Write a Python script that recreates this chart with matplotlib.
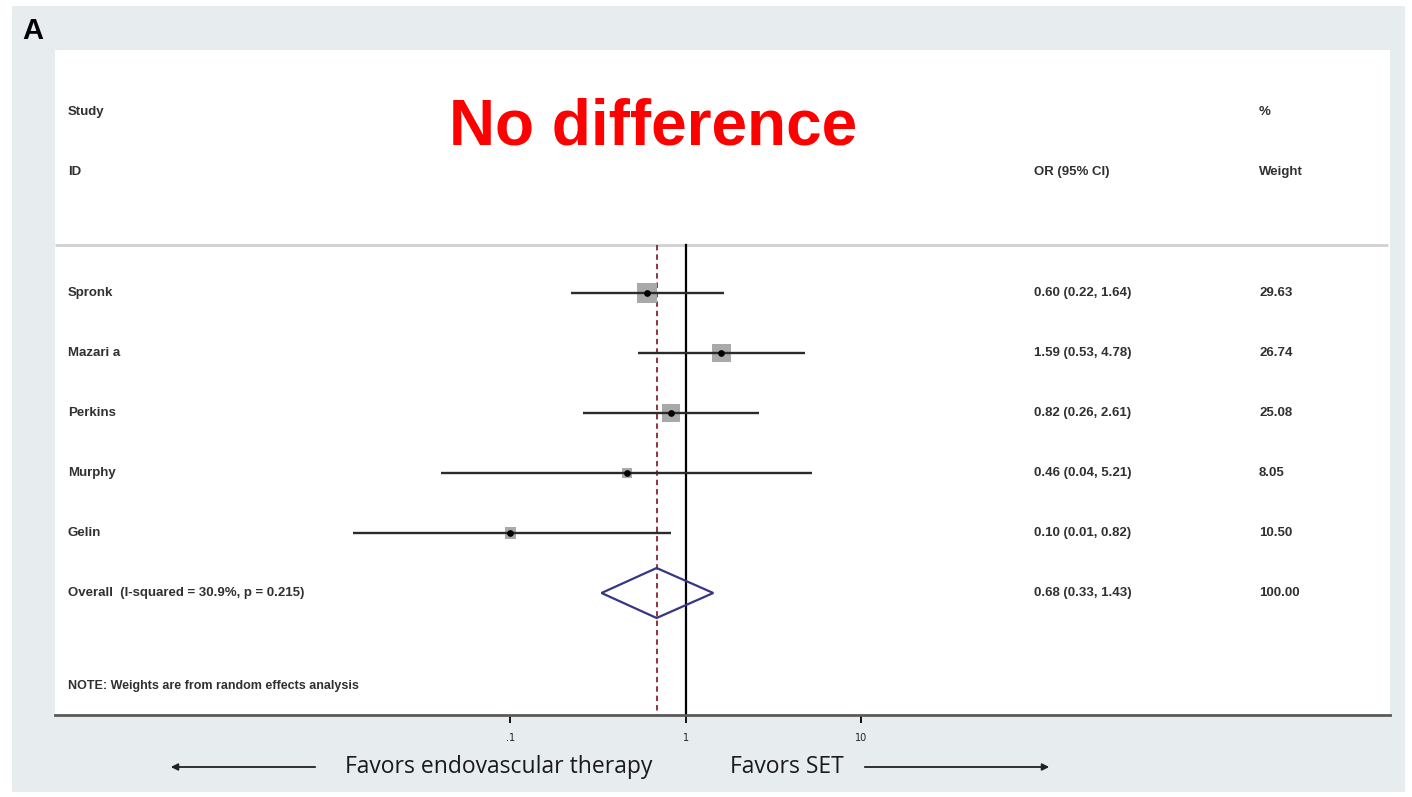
import numpy as np
import matplotlib
matplotlib.use("Agg")
import matplotlib.pyplot as plt
from matplotlib.patches import Rectangle, Polygon

# ---- data ----
studies = ["Spronk", "Mazari a", "Perkins", "Murphy", "Gelin"]
odds_ratio = [0.60, 1.59, 0.82, 0.46, 0.10]
ci_low = [0.22, 0.53, 0.26, 0.04, 0.0127]
ci_high = [1.64, 4.78, 2.61, 5.21, 0.82]
weights = [29.63, 26.74, 25.08, 8.05, 10.50]

overall_or = 0.68
overall_low = 0.33
overall_high = 1.43
overall_weight = 100.00
overall_label = "Overall  (I-squared = 30.9%, p = 0.215)"
note_label = "NOTE: Weights are from random effects analysis"

tick_values = [0.1, 1, 10]
tick_labels = [".1", "1", "10"]

W, H = 1412, 797
fig = plt.figure(figsize=(W / 100, H / 100), dpi=100)
fig.patch.set_facecolor("white")

# background canvas in pixel coordinates
bg = fig.add_axes([0, 0, 1, 1], zorder=0)
bg.set_xlim(0, W)
bg.set_ylim(H, 0)
bg.axis("off")
bg.add_patch(Rectangle((12, 6), 1393, 786, facecolor="#e7ecef", edgecolor="none"))
bg.add_patch(Rectangle((55, 50), 1335, 665, facecolor="white", edgecolor="none"))

text_font = ["Liberation Sans", "DejaVu Sans"]
txt_kw = dict(fontsize=9.5, fontweight="bold", color="#303030", family=text_font,
              va="center", ha="left")

bg.text(22, 31, "A", fontsize=21, fontweight="bold", family=text_font, va="center", ha="left", color="black")
bg.text(653, 127, "No difference", fontsize=46, fontweight="bold", family=text_font,
        color="#ff0000", va="center", ha="center")

# header
bg.text(68, 112, "Study", **txt_kw)
bg.text(68, 172, "ID", **txt_kw)
bg.text(1034, 172, "OR (95% CI)", **txt_kw)
bg.text(1259, 112, "%", **txt_kw)
bg.text(1259, 172, "Weight", **txt_kw)
bg.plot([55, 1388], [245, 245], color="#d0d0d0", lw=2, solid_capstyle="butt")

# forest plot axes: log odds ratio scale
x0_px, x1_px = 55, 1390
y0_px, y1_px = 50, 715
px_per_decade = 175.5
one_px = 686
xmin = 10 ** ((x0_px - one_px) / px_per_decade)
xmax = 10 ** ((x1_px - one_px) / px_per_decade)

ax = fig.add_axes([x0_px / W, 1 - y1_px / H, (x1_px - x0_px) / W, (y1_px - y0_px) / H], zorder=1)
ax.set_facecolor("none")
ax.set_xscale("log")
ax.set_xlim(xmin, xmax)
row_px = 60
first_row_px = 293
ax.set_ylim((y1_px - first_row_px) / row_px + 1, (y0_px - first_row_px) / row_px + 1)

for s in ["top", "left", "right"]:
    ax.spines[s].set_visible(False)
ax.spines["bottom"].set_color("#5a5a5a")
ax.spines["bottom"].set_linewidth(2)
ax.set_yticks([])
ax.set_xticks(tick_values)
ax.set_xticklabels(tick_labels)
ax.xaxis.set_minor_locator(matplotlib.ticker.NullLocator())
ax.tick_params(axis="x", direction="out", length=6, width=1.3, color="black",
               labelsize=7, labelcolor="#222222", pad=7)

top_row = (245 - first_row_px) / row_px + 1

# reference line at 1 and pooled estimate line
ax.plot([1, 1], [top_row, ax.get_ylim()[0]], color="black", lw=1.6, zorder=2)
ax.plot([overall_or, overall_or], [top_row, ax.get_ylim()[0]], color="#8b2232", lw=1.3,
        ls=(0, (3, 2.2)), zorder=2)

rows = np.arange(1, len(studies) + 1)
side_px_per_sqrt = 3.67
sizes = [(side_px_per_sqrt * np.sqrt(w) * 0.72) ** 2 for w in weights]
ax.scatter(odds_ratio, rows, s=sizes, marker="s", color="#a9a9a9", edgecolors="none", zorder=3)
for r, o, lo, hi in zip(rows, odds_ratio, ci_low, ci_high):
    ax.plot([lo, hi], [r, r], color="#2b2b2b", lw=1.7, solid_capstyle="butt", zorder=4)
    ax.plot([o], [r], marker="o", ms=3.8, color="black", zorder=5)

# pooled estimate diamond
ov_row = len(studies) + 1
half_h = 25 / row_px
diamond = Polygon([[overall_low, ov_row], [overall_or, ov_row - half_h],
                   [overall_high, ov_row], [overall_or, ov_row + half_h]],
                  closed=True, facecolor="none", edgecolor="#363684", lw=1.6, zorder=4)
ax.add_patch(diamond)

# study labels and values
for r, name, o, lo, hi, w in zip(rows, studies, odds_ratio, ci_low, ci_high, weights):
    y = first_row_px + (r - 1) * row_px
    bg.text(68, y, name, **txt_kw)
    bg.text(1034, y, f"{o:.2f} ({lo:.2f}, {hi:.2f})", **txt_kw)
    bg.text(1259, y, f"{w:.2f}", **txt_kw)

y_ov = first_row_px + (ov_row - 1) * row_px
bg.text(68, y_ov, overall_label, **txt_kw)
bg.text(1034, y_ov, f"{overall_or:.2f} ({overall_low:.2f}, {overall_high:.2f})", **txt_kw)
bg.text(1259, y_ov, f"{overall_weight:.2f}", **txt_kw)
bg.text(68, 686, note_label, **dict(txt_kw, fontsize=9))

# direction labels
dir_font = ["Open Sans", "DejaVu Sans"]
bg.text(345, 767, "Favors endovascular therapy", fontsize=16.5, family=dir_font,
        color="#1a1a1a", va="center", ha="left")
bg.text(730, 767, "Favors SET", fontsize=16.5, family=dir_font,
        color="#1a1a1a", va="center", ha="left")
bg.annotate("", xy=(168, 767), xytext=(318, 767),
            arrowprops=dict(arrowstyle="-|>", color="#222222", lw=1.3, mutation_scale=10))
bg.annotate("", xy=(1052, 767), xytext=(862, 767),
            arrowprops=dict(arrowstyle="-|>", color="#222222", lw=1.3, mutation_scale=10))

fig.savefig("out.png", dpi=100)
